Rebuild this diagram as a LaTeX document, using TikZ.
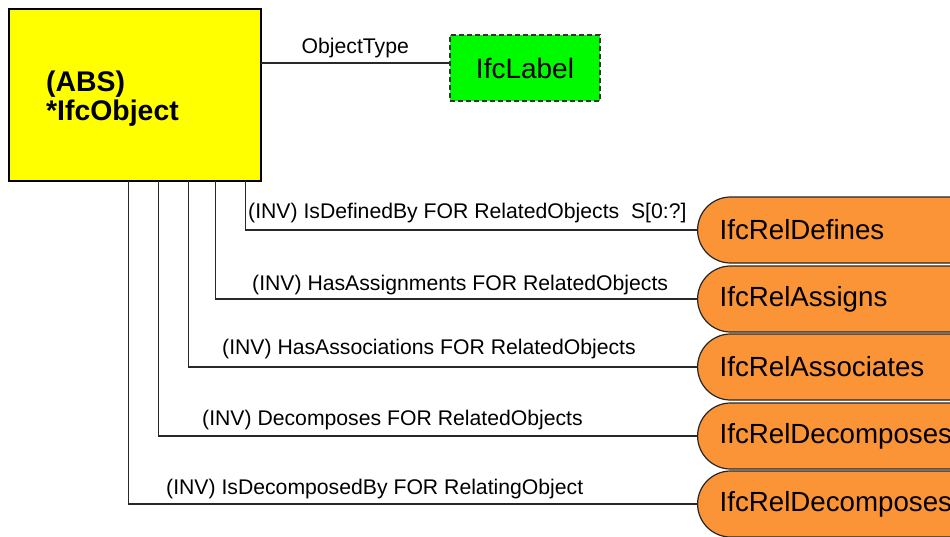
\documentclass[tikz,border=0pt]{standalone}
\usepackage{fontspec}
\setmainfont{Liberation Sans}
\usetikzlibrary{calc}
\definecolor{absyellow}{RGB}{255,255,0}
\definecolor{typegreen}{RGB}{0,250,0}
\definecolor{relorange}{RGB}{250,148,55}
\definecolor{linegray}{RGB}{40,40,40}
\tikzset{
  entitybox/.style={draw=black, line width=1.3pt, fill=absyellow},
  typebox/.style={draw=black!80, dash pattern=on 5pt off 3pt, line width=1.3pt, fill=typegreen,
    minimum width=150pt, minimum height=66pt, font=\fontsize{28}{32}\selectfont},
  relbox/.style={draw=black!85, line width=1.2pt, fill=relorange, rounded corners=33pt,
    minimum height=66pt, minimum width=340pt, inner xsep=22pt, text width=296pt,
    align=left, anchor=west, font=\fontsize{27.7}{32}\selectfont},
  rolelabel/.style={anchor=west, inner sep=0pt, font=\fontsize{21.2}{24}\selectfont},
  link/.style={draw=linegray, line width=1.2pt},
}
\begin{document}
\begin{tikzpicture}[x=1pt, y=-1pt]
  \clip (0,0) rectangle (950,536);
  \fill[white] (0,0) rectangle (950,536);

  % abstract supertype
  \path[entitybox] (9,9) rectangle (261,181);
  \node[inner sep=0pt, minimum width=252pt, minimum height=172pt] (obj) at (135,95) {};
  \node[anchor=west, align=left, inner sep=0pt,
        font=\fontsize{28.4}{29}\selectfont\bfseries] (objtxt) at (46,99) {(ABS)\\*IfcObject};

  % attribute type
  \node[typebox] (lab) at (525,68) {IfcLabel};
  \draw[link] ([yshift=5pt]lab.west) -- ([yshift=5pt]lab.west -| obj.east)
    node[pos=0.5, above=5pt, inner sep=0pt, font=\fontsize{21.2}{24}\selectfont] (otlab) {ObjectType};

  % relationship objects
  \node[relbox] (defines)   at (697,230) {IfcRelDefines};
  \node[relbox] (assigns)   at (697,299) {IfcRelAssigns};
  \node[relbox] (associates) at (697,367) {IfcRelAssociates};
  \node[relbox] (decomp)    at (697,436) {IfcRelDecomposes};
  \node[relbox] (decompby)  at (697,504) {IfcRelDecomposes};

  % inverse attributes
  \draw[link] ([xshift=-16pt]obj.south east) |- (defines.west);
  \draw[link] ([xshift=-46pt]obj.south east) |- (assigns.west);
  \draw[link] ([xshift=-73pt]obj.south east) |- (associates.west);
  \draw[link] ([xshift=-103pt]obj.south east) |- (decomp.west);
  \draw[link] ([xshift=-133pt]obj.south east) |- (decompby.west);

  \node[rolelabel] (l1) at (248,213) {(INV) IsDefinedBy FOR RelatedObjects\ \ S[0:?]};
  \node[rolelabel] (l2) at (252,285) {(INV) HasAssignments FOR RelatedObjects};
  \node[rolelabel] (l3) at (222,349) {(INV) HasAssociations FOR RelatedObjects};
  \node[rolelabel] (l4) at (202,420) {(INV) Decomposes FOR RelatedObjects};
  \node[rolelabel] (l5) at (166,489) {(INV) IsDecomposedBy FOR RelatingObject};
\end{tikzpicture}
\end{document}
